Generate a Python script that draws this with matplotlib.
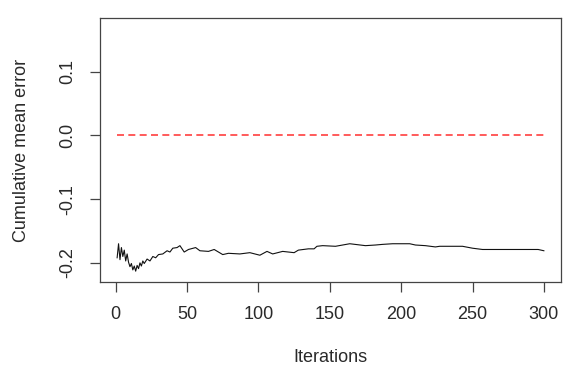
import matplotlib
matplotlib.use("Agg")
import matplotlib.pyplot as plt

# Cumulative mean error over MCMC-style iterations
iterations = [1, 2, 3, 4, 5, 6, 7, 8, 9, 10, 11, 12, 13, 14, 15, 16, 17, 18, 19, 20,
              22, 24, 26, 28, 30, 33, 36, 38, 40, 43, 45, 48, 51, 56, 59, 65, 69, 75,
              79, 87, 94, 101, 106, 110, 117, 125, 128, 135, 139, 141, 145, 154, 159,
              164, 175, 182, 187, 194, 206, 210, 217, 224, 227, 243, 250, 257, 273,
              296, 298, 300]
cum_mean_error = [-0.192, -0.170, -0.195, -0.176, -0.190, -0.180, -0.197, -0.186,
                  -0.199, -0.206, -0.201, -0.211, -0.205, -0.213, -0.204, -0.209,
                  -0.200, -0.205, -0.197, -0.201, -0.194, -0.197, -0.190, -0.192,
                  -0.187, -0.186, -0.181, -0.183, -0.177, -0.176, -0.173, -0.183,
                  -0.179, -0.176, -0.181, -0.182, -0.179, -0.187, -0.185, -0.186,
                  -0.184, -0.188, -0.182, -0.186, -0.182, -0.184, -0.180, -0.178,
                  -0.178, -0.174, -0.173, -0.174, -0.172, -0.170, -0.173, -0.172,
                  -0.171, -0.170, -0.170, -0.172, -0.173, -0.175, -0.174, -0.174,
                  -0.177, -0.179, -0.179, -0.179, -0.180, -0.181]
reference_x = [1, 300]
reference_y = [0.0, 0.0]

x_ticks = [0, 50, 100, 150, 200, 250, 300]
y_ticks = [-0.2, -0.1, 0.0, 0.1]
y_tick_labels = ["-0.2", "-0.1", "0.0", "0.1"]

plt.rcParams["font.family"] = ["Liberation Sans", "DejaVu Sans"]
W, H = 565, 372
fig = plt.figure(figsize=(W / 100, H / 100), dpi=100)
ax = fig.add_axes([100 / W, 1 - 282 / H, (561 - 100) / W, (282 - 18) / H])

ax.plot(iterations, cum_mean_error, color="#111111", lw=0.8)
ax.plot(reference_x, reference_y, color="#ff4040", lw=1.2, dashes=(4.2, 2.6))

ax.set_xlim(-11, 312)
ax.set_ylim(-0.23, 0.184)

fs = 13
txt = "#2a2a2a"
ax.set_xticks(x_ticks)
ax.set_xticklabels([str(t) for t in x_ticks], fontsize=fs, color=txt)
ax.set_yticks(y_ticks)
ax.set_yticklabels(y_tick_labels, fontsize=fs, color=txt, rotation=90, va="center")
ax.tick_params(axis="both", length=7, width=0.9, color="#444444", pad=10)

for s in ax.spines.values():
    s.set_color("#444444")
    s.set_linewidth(0.9)

fig.text(22 / W, 1 - 150 / H, "Cumulative mean error", rotation=90,
         ha="center", va="center", fontsize=fs, color=txt)
fig.text(330 / W, 1 - 357 / H, "Iterations", ha="center", va="center",
         fontsize=fs, color=txt)

fig.savefig("out.png", dpi=100)
